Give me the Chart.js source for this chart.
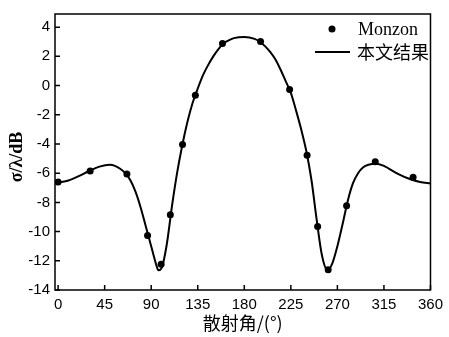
<!DOCTYPE html>
<html>
<head>
<meta charset="utf-8">
<script src="https://cdn.jsdelivr.net/npm/chart.js@4/dist/chart.umd.min.js"></script>
<style>
  html, body { margin: 0; padding: 0; background: #fff; }
  #wrap { width: 449px; height: 337px; }
</style>
</head>
<body>
<div id="wrap"><canvas id="chart" width="449" height="337"></canvas></div>
<script>
// Monzon reference points
const monzonAngle = [0, 31, 66.5, 86.5, 99.6, 108.5, 120.3, 132.7, 158.9, 195.7, 223.8, 240.7, 250.9, 261.1, 278.9, 306.6, 343.2];
const monzonValue = [-6.6, -5.85, -6.05, -10.26, -12.24, -8.84, -4.03, -0.66, 2.88, 3.01, -0.27, -4.77, -9.65, -12.62, -8.23, -5.22, -6.28];

// this work (smooth curve)
const curveAngle = [0, 10, 20, 30, 40, 50, 55, 60, 65, 70, 75, 80, 85, 90, 95, 97, 100, 105, 110, 115, 120, 125, 130, 135, 140, 145, 150, 155, 160, 165, 170, 180, 190, 195, 200, 205, 210, 215, 220, 225, 230, 235, 240, 245, 250, 255, 260.5, 265, 270, 275, 280, 285, 290, 295, 300, 307, 315, 320, 330, 340, 350, 360];
const curveValue = [-6.65, -6.5, -6.2, -5.85, -5.55, -5.42, -5.5, -5.7, -6.0, -6.5, -7.3, -8.4, -9.7, -11.0, -12.3, -12.65, -12.5, -10.9, -8.3, -6.0, -4.1, -2.5, -1.2, -0.2, 0.7, 1.4, 2.0, 2.5, 2.9, 3.1, 3.25, 3.33, 3.2, 3.0, 2.7, 2.3, 1.8, 1.1, 0.3, -0.5, -1.7, -3.0, -4.5, -6.5, -9.2, -11.6, -12.65, -12.2, -11.0, -9.5, -7.9, -6.7, -6.0, -5.6, -5.42, -5.35, -5.5, -5.7, -6.1, -6.4, -6.6, -6.7];

const xTicks = [0, 45, 90, 135, 180, 225, 270, 315, 360];
const yTicks = [-14, -12, -10, -8, -6, -4, -2, 0, 2, 4];

const legendNames = ['Monzon', '本文结果'];
const yTitle = 'σ/λ/dB';

const toXY = (xs, ys) => xs.map((x, i) => ({ x: x, y: ys[i] }));

// box, inward ticks, y title and legend
const framePlugin = {
  id: 'frame',
  afterDraw(chart) {
    const ctx = chart.ctx;
    const a = chart.chartArea;
    const xs = chart.scales.x, ys = chart.scales.y;
    ctx.save();
    ctx.strokeStyle = '#000';
    ctx.lineWidth = 1.5;
    ctx.strokeRect(a.left, a.top, a.right - a.left, a.bottom - a.top);
    ctx.beginPath();
    xTicks.forEach(v => {
      const px = xs.getPixelForValue(v);
      ctx.moveTo(px, a.bottom);
      ctx.lineTo(px, a.bottom - 5);
    });
    yTicks.forEach(v => {
      const py = ys.getPixelForValue(v);
      ctx.moveTo(a.left, py);
      ctx.lineTo(a.left + 5, py);
    });
    ctx.stroke();

    // y axis title
    ctx.fillStyle = '#000';
    ctx.save();
    ctx.translate(17, 157);
    ctx.rotate(-Math.PI / 2);
    ctx.textAlign = 'center';
    ctx.textBaseline = 'middle';
    ctx.font = 'bold 18px "Liberation Serif"';
    ctx.fillText(yTitle, 0, 0);
    ctx.restore();

    // legend
    ctx.beginPath();
    ctx.arc(332, 29, 3.5, 0, Math.PI * 2);
    ctx.fill();
    ctx.lineWidth = 2;
    ctx.beginPath();
    ctx.moveTo(315, 52);
    ctx.lineTo(350, 52);
    ctx.stroke();
    ctx.textBaseline = 'middle';
    ctx.font = '18px "Liberation Serif"';
    ctx.fillText(legendNames[0], 358, 30);
    ctx.font = '18px "Noto Sans CJK SC"';
    ctx.fillText(legendNames[1], 357, 52);
    ctx.restore();
  }
};

new Chart(document.getElementById('chart'), {
  type: 'scatter',
  data: {
    datasets: [
      {
        label: legendNames[1],
        data: toXY(curveAngle, curveValue),
        showLine: true,
        borderColor: '#000',
        borderWidth: 2,
        pointRadius: 0,
        cubicInterpolationMode: 'monotone',
        fill: false
      },
      {
        label: legendNames[0],
        data: toXY(monzonAngle, monzonValue),
        showLine: false,
        pointRadius: 3.5,
        pointBackgroundColor: '#000',
        pointBorderColor: '#000',
        borderWidth: 0
      }
    ]
  },
  options: {
    responsive: false,
    animation: false,
    layout: { padding: { top: 9, right: 13, left: 0, bottom: 0 } },
    plugins: {
      legend: { display: false },
      tooltip: { enabled: false }
    },
    scales: {
      x: {
        type: 'linear',
        min: -3,
        max: 360,
        afterBuildTicks: s => { s.ticks = xTicks.map(v => ({ value: v })); },
        afterFit: s => { s.height = 47; },
        grid: { display: false, drawTicks: false },
        border: { display: false },
        ticks: {
          padding: 6,
          color: '#000',
          font: { family: '"Liberation Sans"', size: 15 }
        },
        title: {
          display: true,
          text: '散射角/(°)',
          color: '#000',
          font: { family: '"Noto Sans CJK SC"', size: 18 },
          padding: { top: 0, bottom: 3 }
        }
      },
      y: {
        min: -14,
        max: 4.9,
        afterBuildTicks: s => { s.ticks = yTicks.map(v => ({ value: v })); },
        afterFit: s => { s.width = 55; },
        grid: { display: false, drawTicks: false },
        border: { display: false },
        ticks: {
          padding: 5,
          color: '#000',
          font: { family: '"Liberation Sans"', size: 15 }
        }
      }
    }
  },
  plugins: [framePlugin]
});
</script>
</body>
</html>
